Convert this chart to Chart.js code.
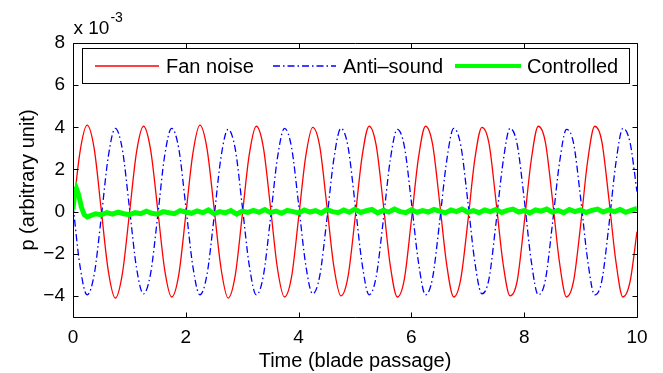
<!DOCTYPE html>
<html>
<head>
<meta charset="utf-8">
<script src="https://cdn.jsdelivr.net/npm/chart.js@4/dist/chart.umd.min.js"></script>
<style>
  html, body { margin: 0; padding: 0; background: #fff; }
  canvas { display: block; }
</style>
</head>
<body>
<canvas id="chart" width="663" height="373"></canvas>
<script>
// values are in units of 1e-3 (see the "x 10^-3" label)
const seriesNames = ['Fan noise', 'Anti\u2013sound', 'Controlled'];
const xTicks = [0, 2, 4, 6, 8, 10];
const yTicks = [-4, -2, 0, 2, 4, 6, 8];

// fan noise and anti-sound are read every 1/8 blade passage, t = 0 .. 10
const waveStep = 0.125;
const fanNoise = [
  0, 2.85, 4.1, 3.0, 0.1, -2.8, -4.1, -2.95,
  -0.1, 2.8, 4.05, 2.95, 0.15, -2.75, -4.05, -3.0,
  -0.15, 2.75, 4.1, 3.0, 0.2, -2.7, -4.1, -3.05,
  -0.2, 2.7, 4.05, 3.05, 0.25, -2.7, -4.05, -3.1,
  -0.3, 2.6, 4.0, 3.1, 0.3, -2.6, -4.0, -3.1,
  -0.35, 2.6, 4.05, 3.15, 0.4, -2.55, -4.05, -3.2,
  -0.4, 2.55, 4.05, 3.2, 0.45, -2.5, -4.05, -3.2,
  -0.5, 2.5, 4.0, 3.25, 0.5, -2.45, -4.0, -3.3,
  -0.55, 2.45, 4.05, 3.3, 0.6, -2.4, -4.05, -3.3,
  -0.65, 2.4, 4.05, 3.35, 0.65, -2.35, -4.05, -3.35,
  -0.95
];
const antiSound = [
  0.3, -2.6, -3.95, -3.0, -0.3, 2.6, 3.95, 2.95,
  0.2, -2.65, -3.9, -2.95, -0.25, 2.65, 3.95, 3.0,
  0.25, -2.6, -3.95, -3.0, -0.3, 2.6, 3.9, 3.0,
  0.3, -2.55, -3.95, -3.05, -0.35, 2.55, 3.95, 3.05,
  0.35, -2.5, -3.9, -3.05, -0.4, 2.5, 3.95, 3.1,
  0.4, -2.45, -3.95, -3.1, -0.45, 2.45, 3.9, 3.1,
  0.45, -2.4, -3.95, -3.15, -0.5, 2.4, 3.95, 3.15,
  0.5, -2.4, -3.9, -3.2, -0.55, 2.35, 3.95, 3.2,
  0.6, -2.35, -3.95, -3.25, -0.6, 2.3, 3.9, 3.25,
  0.65, -2.3, -3.95, -3.3, -0.7, 2.3, 3.95, 3.3,
  0.95
];

// controlled: start-up transient, then read every 0.1 from t = 0.3
const controlledStartT = [0, 0.03, 0.06, 0.1, 0.15, 0.2, 0.25];
const controlledStartV = [0.1, 0.9, 1.1, 0.8, 0.2, -0.15, -0.25];
const controlledFrom = 0.3;
const controlledStep = 0.1;
const controlled = [
  -0.2, -0.1, -0.15, -0.05, -0.12, -0.02, -0.1, -0.15, -0.05, -0.1,
  0.02, -0.08, -0.12, 0.0, -0.05, -0.1, 0.05, -0.02, -0.08, 0.03,
  -0.05, 0.08, -0.1, 0.0, -0.06, 0.05, -0.12, 0.02, -0.04, 0.06,
  -0.03, 0.1, -0.05, 0.02, -0.08, 0.06, 0.0, -0.06, 0.08, -0.02,
  0.05, -0.07, 0.1, 0.0, -0.05, 0.08, -0.03, 0.12, -0.04, 0.04,
  0.1, -0.06, 0.06, -0.02, 0.12, 0.0, -0.05, 0.09, -0.03, 0.05,
  -0.02, 0.1, 0.02, -0.06, 0.08, 0.0, 0.12, -0.03, 0.05, -0.05,
  0.08, 0.0, 0.1, -0.04, 0.06, 0.12, -0.02, 0.05, -0.06, 0.08,
  0.02, 0.12, -0.03, 0.06, -0.05, 0.1, 0.0, 0.08, -0.04, 0.06,
  0.12, -0.02, 0.08, 0.0, 0.1, -0.03, 0.06, 0.15
];

const FONT = '"Liberation Sans", Arial, Helvetica, sans-serif';
const colors = ['#ff0000', '#0000ff', '#00ff00'];
const widths = [1.3, 1.3, 5];
const dashes = [[], [7, 3, 1.5, 3], []];

const wavePoints = vals => vals.map((v, i) => ({ x: +(i * waveStep).toFixed(3), y: v }));
const controlledPoints = controlledStartT.map((t, i) => ({ x: t, y: controlledStartV[i] }))
  .concat(controlled.map((v, i) => ({ x: +(controlledFrom + i * controlledStep).toFixed(2), y: v })));

const minus = v => (v < 0 ? '\u2212' + Math.abs(v) : '' + v);

// box, inward ticks on all four sides, legend and exponent label
const matlabAxes = {
  id: 'matlabAxes',
  afterDraw(chart) {
    const { ctx, chartArea: a, scales: { x, y } } = chart;
    ctx.save();
    ctx.strokeStyle = '#000';
    ctx.lineWidth = 1;
    ctx.setLineDash([]);
    ctx.beginPath();
    const L = Math.round(a.left) + 0.5, R = Math.round(a.right) + 0.5;
    const T = Math.round(a.top) + 0.5, B = Math.round(a.bottom) + 0.5;
    ctx.rect(L, T, R - L, B - T);
    const tl = 5;
    xTicks.forEach(v => {
      const px = Math.round(x.getPixelForValue(v)) + 0.5;
      ctx.moveTo(px, B); ctx.lineTo(px, B - tl);
      ctx.moveTo(px, T); ctx.lineTo(px, T + tl);
    });
    yTicks.forEach(v => {
      const py = Math.round(y.getPixelForValue(v)) + 0.5;
      ctx.moveTo(L, py); ctx.lineTo(L + tl, py);
      ctx.moveTo(R, py); ctx.lineTo(R - tl, py);
    });
    ctx.stroke();

    // exponent
    ctx.fillStyle = '#000';
    ctx.textBaseline = 'alphabetic';
    ctx.textAlign = 'left';
    ctx.font = '19px ' + FONT;
    ctx.fillText('x 10', L, T - 10);
    const w = ctx.measureText('x 10').width;
    ctx.font = '14px ' + FONT;
    ctx.fillText('-3', L + w + 1, T - 22);

    // legend
    const lx = 82.5, ly = 48.5, lw = 547, lh = 35;
    ctx.fillStyle = '#fff';
    ctx.fillRect(lx, ly, lw, lh);
    ctx.strokeRect(lx, ly, lw, lh);
    const cy = ly + lh / 2;
    const items = [
      { x0: 95, x1: 159, tx: 166 },
      { x0: 273, x1: 336, tx: 343 },
      { x0: 455, x1: 521, tx: 527 }
    ];
    ctx.font = '20px ' + FONT;
    ctx.textBaseline = 'middle';
    items.forEach((it, i) => {
      ctx.beginPath();
      ctx.strokeStyle = colors[i];
      ctx.lineWidth = i === 2 ? 4 : widths[i];
      ctx.setLineDash(dashes[i]);
      ctx.moveTo(it.x0, cy); ctx.lineTo(it.x1, cy);
      ctx.stroke();
      ctx.setLineDash([]);
      ctx.fillStyle = '#000';
      ctx.fillText(seriesNames[i], it.tx, cy + 1);
    });
    ctx.restore();
  }
};

new Chart(document.getElementById('chart'), {
  type: 'line',
  data: {
    datasets: [
      { label: seriesNames[0], data: wavePoints(fanNoise), borderColor: colors[0], borderWidth: widths[0], cubicInterpolationMode: 'monotone', order: 2 },
      { label: seriesNames[1], data: wavePoints(antiSound), borderColor: colors[1], borderWidth: widths[1], borderDash: dashes[1], cubicInterpolationMode: 'monotone', order: 1 },
      { label: seriesNames[2], data: controlledPoints, borderColor: colors[2], borderWidth: widths[2], order: 0 }
    ]
  },
  options: {
    responsive: false,
    animation: false,
    devicePixelRatio: 1,
    layout: { padding: { top: 43, right: 26, left: 0, bottom: 0 } },
    elements: { point: { radius: 0 }, line: { tension: 0 } },
    plugins: { legend: { display: false }, tooltip: { enabled: false } },
    scales: {
      x: {
        type: 'linear', min: 0, max: 10,
        grid: { display: false, drawTicks: false },
        border: { display: false },
        afterBuildTicks: s => { s.ticks = xTicks.map(v => ({ value: v })); },
        afterFit: s => { s.height = 56; },
        ticks: { color: '#000', font: { family: FONT, size: 19 }, padding: 9, maxRotation: 0, callback: v => minus(v) },
        title: { display: true, text: 'Time (blade passage)', color: '#000', font: { family: FONT, size: 20 }, padding: { top: 0, bottom: 0 } }
      },
      y: {
        type: 'linear', min: -5, max: 8,
        grid: { display: false, drawTicks: false },
        border: { display: false },
        afterBuildTicks: s => { s.ticks = yTicks.map(v => ({ value: v })); },
        afterFit: s => { s.width = 73; },
        ticks: { color: '#000', font: { family: FONT, size: 19 }, padding: 8, callback: v => minus(v) },
        title: { display: true, text: 'p (arbitrary unit)', color: '#000', font: { family: FONT, size: 20 }, padding: { top: 16, bottom: 0 } }
      }
    }
  },
  plugins: [matlabAxes]
});
</script>
</body>
</html>
